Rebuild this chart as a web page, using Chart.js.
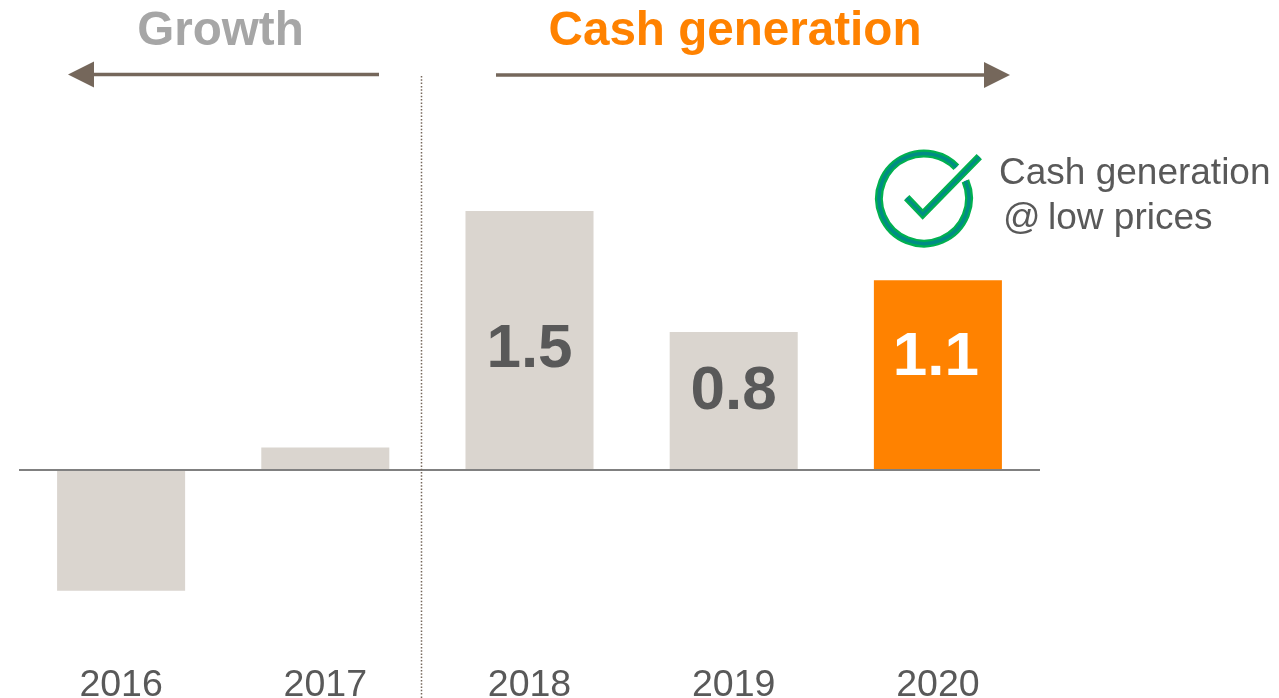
<!DOCTYPE html>
<html>
<head>
<meta charset="utf-8">
<title>Cash generation</title>
<script src="https://cdn.jsdelivr.net/npm/chart.js@4"></script>
<style>
    html, body { margin: 0; padding: 0; background: #fff; overflow: hidden; }
    canvas { display: block; }
</style>
</head>
<body>
<canvas id="cashChart" width="1279" height="698"></canvas>
<script>
const years = ['2016', '2017', '2018', '2019', '2020'];
const cashValues = [-0.7, 0.13, 1.5, 0.8, 1.1];
const valueLabels = ['', '', '1.5', '0.8', '1.1'];
const barColors = ['#dad5cf', '#dad5cf', '#dad5cf', '#dad5cf', '#ff8200'];
const labelColors = ['#595959', '#595959', '#595959', '#595959', '#ffffff'];

const FONT = '"Liberation Sans", Arial, sans-serif';
const GREY_TEXT = '#595959';
const ARROW = '#75675b';

function arrow(ctx, x1, x2, y) {
    // line from x1 to the head, tip at x2
    let dir = x2 > x1 ? 1 : -1;
    ctx.strokeStyle = ARROW;
    ctx.fillStyle = ARROW;
    ctx.lineWidth = 3.5;
    ctx.beginPath();
    ctx.moveTo(x1, y);
    ctx.lineTo(x2 - dir * 26, y);
    ctx.stroke();
    ctx.beginPath();
    ctx.moveTo(x2, y);
    ctx.lineTo(x2 - dir * 26, y - 13);
    ctx.lineTo(x2 - dir * 26, y + 13);
    ctx.closePath();
    ctx.fill();
}

function checkMark(ctx, color, ringWidth, tickWidth) {
    ctx.strokeStyle = color;
    ctx.lineWidth = ringWidth;
    ctx.beginPath();
    ctx.arc(924, 198.5, 45, 337 * Math.PI / 180, 316 * Math.PI / 180);
    ctx.stroke();
    ctx.lineWidth = tickWidth;
    ctx.lineJoin = 'miter';
    ctx.beginPath();
    ctx.moveTo(906.7, 197.7);
    ctx.lineTo(922.7, 214.3);
    ctx.lineTo(979.3, 156.7);
    ctx.stroke();
}

const extras = {
    id: 'extras',
    afterDatasetsDraw(chart) {
        let ctx = chart.ctx;
        let meta = chart.getDatasetMeta(0);
        let zero = chart.scales.y.getPixelForValue(0);
        let area = chart.chartArea;
        ctx.save();

        // zero line
        ctx.strokeStyle = '#808080';
        ctx.lineWidth = 2;
        ctx.beginPath();
        ctx.moveTo(area.left, zero);
        ctx.lineTo(area.right, zero);
        ctx.stroke();

        // dotted divider
        ctx.strokeStyle = ARROW;
        ctx.lineWidth = 1.5;
        ctx.setLineDash([1.5, 1.8]);
        ctx.beginPath();
        ctx.moveTo(421.5, 76);
        ctx.lineTo(421.5, 698);
        ctx.stroke();
        ctx.setLineDash([]);

        // labels inside the bars, nudged the way the slide has them
        let labelShift = [0, 0, 9, -9, -17];
        ctx.textAlign = 'center';
        ctx.textBaseline = 'middle';
        ctx.font = 'bold 62px ' + FONT;
        meta.data.forEach(function (bar, i) {
            if (!valueLabels[i]) return;
            ctx.fillStyle = labelColors[i];
            let mid = (bar.y + bar.base) / 2;
            ctx.fillText(valueLabels[i], bar.x - (i === 4 ? 2 : 0), mid + labelShift[i]);
        });

        // headers and arrows
        ctx.textBaseline = 'alphabetic';
        ctx.font = 'bold 47.6px ' + FONT;
        ctx.fillStyle = '#a6a6a6';
        ctx.fillText('Growth', 220.5, 45);
        ctx.fillStyle = '#ff8200';
        ctx.fillText('Cash generation', 735, 45);
        arrow(ctx, 379, 68, 74.5);
        arrow(ctx, 496, 1010, 75);

        // check icon and note
        checkMark(ctx, '#00b050', 8, 7.5);
        checkMark(ctx, '#008c85', 3.5, 3);
        ctx.textAlign = 'left';
        ctx.font = '37px ' + FONT;
        ctx.fillStyle = GREY_TEXT;
        ctx.fillText('Cash generation', 999, 184);
        ctx.fillText('@', 1003, 229);
        ctx.fillText('low prices', 1048, 229);
        ctx.restore();
    }
};

new Chart(document.getElementById('cashChart').getContext('2d'), {
    type: 'bar',
    data: {
        labels: years,
        datasets: [{
            data: cashValues,
            backgroundColor: barColors,
            borderWidth: 0,
            categoryPercentage: 1,
            barPercentage: 0.627
        }]
    },
    options: {
        responsive: false,
        animation: false,
        devicePixelRatio: 1,
        layout: { padding: { left: 19, right: 239, top: 0, bottom: 0 } },
        plugins: { legend: { display: false }, tooltip: { enabled: false } },
        scales: {
            x: {
                afterFit: function (scale) { scale.height = 38; },
                grid: { display: false, drawTicks: false },
                border: { display: false },
                ticks: {
                    color: GREY_TEXT,
                    padding: 3,
                    maxRotation: 0,
                    font: { family: FONT, size: 37.5 }
                }
            },
            y: { display: false, min: -1.1008, max: 2.723 }
        }
    },
    plugins: [extras]
});
</script>
</body>
</html>
